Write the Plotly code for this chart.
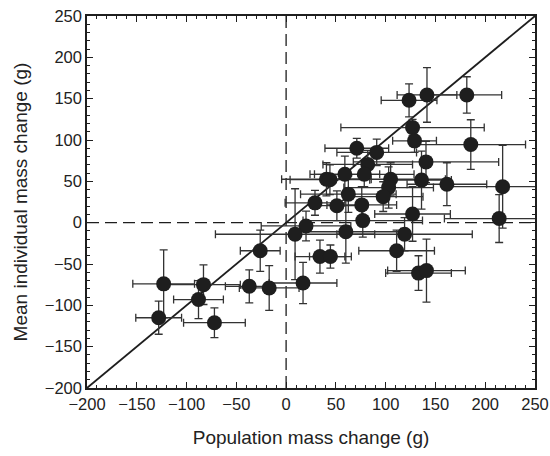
import plotly.graph_objects as go

# Population mass change (g)
pop_change = [-123, -83, -88, -128, -72, -26, -37, -17, 17,
              123.5, 141.5, 181.5, 127, 129, 185.5, 71, 91, 82, 140.5,
              78.5, 59, 40.5, 44, 105, 136, 161.5, 217.5, 103, 62.5,
              97.5, 29, 51, 76, 127, 214, 77, 20, 9, 60, 119, 111,
              34, 44.5, 133, 141]
# Mean individual mass change (g)
ind_change = [-74, -75, -93, -115, -121, -34, -77, -79, -73,
              148, 154.5, 154.5, 115, 99, 94.5, 90, 85, 70.5, 73.5,
              58.5, 58.5, 52.5, 52, 52.5, 51.5, 46.5, 43.5, 42.5, 34.5,
              31.5, 24, 20.5, 21.5, 10.5, 5, 2.5, -4, -14, -11, -14, -34,
              -41, -41, -61, -58]
pop_err = [31, 37, 25, 23, 31, 20, 24, 30, 34,
           28, 30, 35, 72, 22, 55, 32, 40, 45, 73,
           50, 35, 45, 40, 55, 30, 40, 55, 45, 48,
           40, 30, 24, 35, 38, 55, 60, 45, 80, 55, 68, 38,
           25, 21, 33, 39]
ind_err = [41, 24, 23, 20, 18, 25, 20, 27, 25,
           20, 33, 22, 10, 14, 30, 12, 16, 17, 25,
           15, 22, 20, 18, 20, 35, 26, 50, 25, 22,
           18, 15, 18, 22, 33, 29, 20, 18, 55, 38, 20, 25,
           20, 14, 21, 38]

axis_min, axis_max = -200, 250
ref_line = [axis_min, axis_max]

ink = "#1e1e1e"
fig = go.Figure()

fig.add_trace(go.Scatter(x=ref_line, y=ref_line, mode="lines",
                         line=dict(color=ink, width=1.8), hoverinfo="skip"))
fig.add_trace(go.Scatter(x=[0, 0], y=ref_line, mode="lines",
                         line=dict(color=ink, width=1.3, dash="12px,6px"), hoverinfo="skip"))
fig.add_trace(go.Scatter(x=ref_line, y=[0, 0], mode="lines",
                         line=dict(color=ink, width=1.3, dash="12px,6px"), hoverinfo="skip"))

fig.add_trace(go.Scatter(
    x=pop_change, y=ind_change, mode="markers",
    marker=dict(size=15, color=ink),
    error_x=dict(type="data", array=pop_err, visible=True, color="#333", thickness=1.3, width=4),
    error_y=dict(type="data", array=ind_err, visible=True, color="#333", thickness=1.3, width=4),
))

axis_common = dict(
    range=[axis_min, axis_max], dtick=50, tick0=0,
    showgrid=False, zeroline=False, automargin=False,
    showline=True, linecolor=ink, linewidth=1.5, mirror="allticks",
    ticks="inside", ticklen=6, tickwidth=1, tickcolor=ink,
    minor=dict(ticks="inside", dtick=10, ticklen=3, tickwidth=1, tickcolor=ink, showgrid=False),
    tickfont=dict(family="Liberation Sans, Arial, sans-serif", size=16.5, color="#222"),
)

fig.update_layout(
    width=550, height=456,
    margin=dict(l=87, r=15, t=16, b=68),
    paper_bgcolor="white", plot_bgcolor="white",
    showlegend=False,
    font=dict(family="Liberation Sans, Arial, sans-serif", color="#222"),
    xaxis=dict(**axis_common, title=dict(text="Population mass change (g)",
                                         font=dict(size=19), standoff=19)),
    yaxis=dict(**axis_common, title=dict(text="Mean individual mass change (g)",
                                         font=dict(size=19), standoff=12)),
)

fig.write_html("out.html")
